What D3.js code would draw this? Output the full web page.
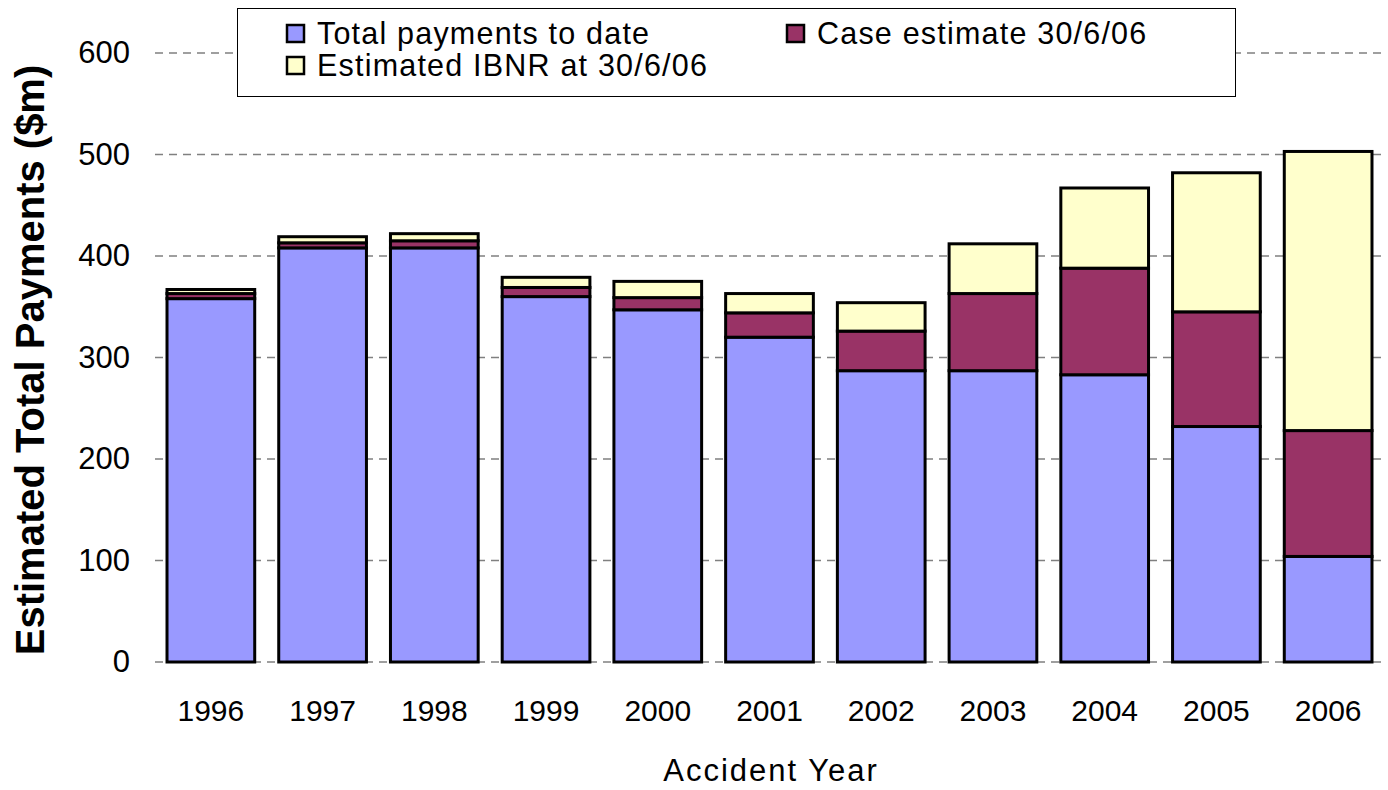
<!DOCTYPE html>
<html>
<head>
<meta charset="utf-8">
<script src="https://d3js.org/d3.v7.min.js"></script>
<style>
  body { margin: 0; background: #fff; }
  text { font-family: "Liberation Sans", Arial, sans-serif; }
</style>
</head>
<body>
<div id="chart-area"></div>
<script>
// accident years and the three stacked parts ($m)
const years = ["1996", "1997", "1998", "1999", "2000", "2001", "2002", "2003", "2004", "2005", "2006"];
const paid = [358, 408, 408, 360, 347, 320, 287, 287, 283, 232, 104];
const caseEst = [5, 5, 7, 9, 12, 24, 39, 76, 105, 113, 124];
const ibnr = [4, 6, 7, 10, 16, 19, 28, 49, 79, 137, 275];
const yTicks = [0, 100, 200, 300, 400, 500, 600];

const seriesNames = ["Total payments to date", "Case estimate 30/6/06", "Estimated IBNR at 30/6/06"];
const colors = ["#9999FF", "#993366", "#FFFFCC"];

const WIDTH = 1388, HEIGHT = 790;
const PLOT = { LEFT: 155, RIGHT: 1384, TOP: 53, BOTTOM: 662 };

const svg = d3.select("#chart-area").append("svg")
    .attr("width", WIDTH)
    .attr("height", HEIGHT);

const rows = years.map((y, i) => ({ year: y, paid: paid[i], caseEst: caseEst[i], ibnr: ibnr[i] }));
const stack = d3.stack().keys(["paid", "caseEst", "ibnr"])(rows);

const x = d3.scaleBand()
    .domain(years)
    .range([PLOT.LEFT, PLOT.RIGHT])
    .paddingInner(0.215)
    .paddingOuter(0.1075);

const y = d3.scaleLinear()
    .domain([0, 600])
    .range([PLOT.BOTTOM, PLOT.TOP]);

// dashed gridlines
svg.append("g")
    .selectAll("line")
    .data(yTicks)
    .enter().append("line")
    .attr("x1", PLOT.LEFT)
    .attr("x2", PLOT.RIGHT)
    .attr("y1", d => y(d))
    .attr("y2", d => y(d))
    .attr("stroke", "#808080")
    .attr("stroke-width", 1.5)
    .attr("stroke-dasharray", "8,6");

// y axis labels only
const yAxis = svg.append("g")
    .attr("transform", `translate(${PLOT.LEFT}, 0)`)
    .call(d3.axisLeft(y).tickValues(yTicks).tickSize(0).tickPadding(25));
yAxis.select(".domain").remove();
yAxis.selectAll("text")
    .attr("font-size", 31)
    .attr("font-family", "Liberation Sans, Arial, sans-serif")
    .attr("fill", "#000");

const xAxis = svg.append("g")
    .attr("transform", `translate(0, ${PLOT.BOTTOM})`)
    .call(d3.axisBottom(x).tickSize(0).tickPadding(38));
xAxis.select(".domain").remove();
xAxis.selectAll("text")
    .attr("font-size", 30)
    .attr("font-family", "Liberation Sans, Arial, sans-serif")
    .attr("fill", "#000");

// bars
svg.append("g")
    .selectAll("g")
    .data(stack)
    .enter().append("g")
    .attr("fill", (d, i) => colors[i])
    .selectAll("rect")
    .data(d => d)
    .enter().append("rect")
    .attr("x", d => x(d.data.year))
    .attr("width", x.bandwidth())
    .attr("y", d => y(d[1]))
    .attr("height", d => y(d[0]) - y(d[1]))
    .attr("stroke", "#000")
    .attr("stroke-width", 3);

// axis titles
svg.append("text")
    .attr("x", 771)
    .attr("y", 781)
    .attr("text-anchor", "middle")
    .attr("font-size", 31)
    .attr("letter-spacing", 2)
    .text("Accident Year");

svg.append("text")
    .attr("transform", `translate(44, 360) rotate(-90)`)
    .attr("text-anchor", "middle")
    .attr("font-size", 40)
    .attr("font-weight", "bold")
    .text("Estimated Total Payments ($m)");

// legend
const legend = svg.append("g");
legend.append("rect")
    .attr("x", 237.5).attr("y", 8.5)
    .attr("width", 998).attr("height", 88)
    .attr("fill", "#fff")
    .attr("stroke", "#000")
    .attr("stroke-width", 1);

const legendPos = [[287, 33], [787, 33], [287, 65]];
seriesNames.forEach((name, i) => {
    const [lx, ly] = legendPos[i];
    legend.append("rect")
        .attr("x", lx).attr("y", ly - 8)
        .attr("width", 17).attr("height", 17)
        .attr("fill", colors[i])
        .attr("stroke", "#000")
        .attr("stroke-width", 2.5);
    legend.append("text")
        .attr("x", lx + 30)
        .attr("y", ly)
        .attr("dy", "0.35em")
        .attr("font-size", 30.5)
        .attr("letter-spacing", 1.2)
        .text(name);
});
</script>
</body>
</html>
